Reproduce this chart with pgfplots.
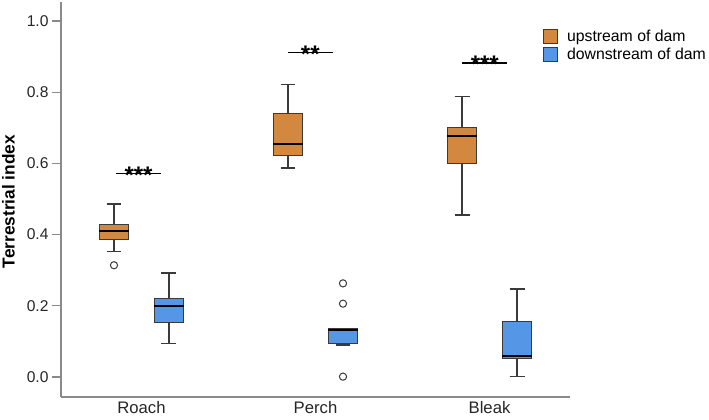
\documentclass[border=0pt]{standalone}
\usepackage{pgfplots}
\pgfplotsset{compat=1.18}
\usepgfplotslibrary{statistics}
\usepackage{fontspec}
\setmainfont{Liberation Sans}
\definecolor{upC}{HTML}{D2893F}
\definecolor{dnC}{HTML}{5596E6}
\definecolor{edge}{HTML}{3A3A3A}
\definecolor{axgray}{HTML}{8A8A8A}
\begin{document}
\begin{tikzpicture}
\useasboundingbox (-61pt,-23pt) rectangle (648pt,397pt);
\begin{axis}[
  scale only axis, width=509pt, height=395pt,
  xmin=0.5375, xmax=3.4625, ymin=-0.0562, ymax=1.0534,
  axis x line*=bottom, axis y line*=left,
  axis line style={axgray, line width=1.2pt, -},
  xtick={1,2,3}, xticklabels={Roach,Perch,Bleak},
  ytick={0,0.2,0.4,0.6,0.8,1.0},
  tick align=outside, major tick length=9pt,
  ytick style={axgray, line width=1.1pt},
  xtick style={draw=none},
  /pgf/number format/assume math mode=true,
  yticklabel style={/pgf/number format/fixed, /pgf/number format/fixed zerofill, /pgf/number format/precision=1, font=\fontsize{15.6}{18}\selectfont, text=black!85},
  xticklabel style={font=\fontsize{16.7}{19}\selectfont, text=black!85, yshift=8pt},
  ylabel={\bfseries Terrestrial index},
  ylabel style={at={(axis description cs:-0.1031,0.495)}, anchor=center, rotate=0, font=\fontsize{17.3}{20}\selectfont},
  clip=false,
  boxplot/draw direction=y,
  boxplot/every box/.style={draw=edge, line width=1.1pt},
  boxplot/every whisker/.style={draw=edge, line width=1.2pt},
  boxplot/every median/.style={draw=black, line width=2pt},
  boxplot/box extend=0.167,
  boxplot/whisker extend=0.086,
  legend style={draw=none, fill=none, at={(rel axis cs:0.947,0.9316)}, anchor=north west, inner sep=0pt, row sep=3.3pt, font=\fontsize{15.8}{18}\selectfont, nodes={inner xsep=5pt, inner ysep=0pt}},
  legend cell align=left,
  legend image code/.code={\draw[#1, draw=edge, line width=0.8pt] (0pt,-7pt) rectangle (14pt,7pt);},
]
\addlegendimage{fill=upC}
\addlegendentry{\hspace{4pt}upstream of dam}
\addlegendimage{fill=dnC}
\addlegendentry{\hspace{4pt}downstream of dam}

% Roach
\addplot[forget plot, fill=upC, mark=*, mark size=3.6pt, mark options={fill=white, draw=edge, line width=1pt},
  boxplot prepared={draw position=0.842, lower whisker=0.352, lower quartile=0.385, median=0.410, upper quartile=0.428, upper whisker=0.486}]
  table[row sep=\\, y index=0]{y\\0.314\\};
\addplot[forget plot, fill=dnC,
  boxplot prepared={draw position=1.158, lower whisker=0.095, lower quartile=0.152, median=0.199, upper quartile=0.220, upper whisker=0.292}]
  coordinates {};
% Perch
\addplot[forget plot, fill=upC,
  boxplot prepared={draw position=1.842, lower whisker=0.587, lower quartile=0.621, median=0.654, upper quartile=0.739, upper whisker=0.822}]
  coordinates {};
\addplot[forget plot, fill=dnC, mark=*, mark size=3.6pt, mark options={fill=white, draw=edge, line width=1pt},
  boxplot prepared={draw position=2.158, lower whisker=0.090, lower quartile=0.095, median=0.131, upper quartile=0.137, upper whisker=0.137}]
  table[row sep=\\, y index=0]{y\\0.263\\0.206\\0.001\\};
% Bleak
\addplot[forget plot, fill=upC,
  boxplot prepared={draw position=2.842, lower whisker=0.455, lower quartile=0.599, median=0.678, upper quartile=0.701, upper whisker=0.789}]
  coordinates {};
\addplot[forget plot, fill=dnC,
  boxplot prepared={draw position=3.158, lower whisker=0.001, lower quartile=0.051, median=0.059, upper quartile=0.157, upper whisker=0.247}]
  coordinates {};

% significance bars
\addplot[forget plot, black, line width=1.3pt] coordinates {(0.853,0.5716) (1.112,0.5716)};
\addplot[forget plot, black, line width=1.3pt] coordinates {(1.842,0.911) (2.101,0.911)};
\addplot[forget plot, black, line width=1.3pt] coordinates {(2.843,0.882) (3.103,0.882)};
\node[font=\bfseries\fontsize{24}{24}\selectfont, anchor=base, inner sep=0pt, yshift=-9.5pt] at (axis cs:0.983,0.5716) {***};
\node[font=\bfseries\fontsize{24}{24}\selectfont, anchor=base, inner sep=0pt, yshift=-9.5pt] at (axis cs:1.97,0.911) {**};
\node[font=\bfseries\fontsize{24}{24}\selectfont, anchor=base, inner sep=0pt, yshift=-9.5pt] at (axis cs:2.973,0.882) {***};
\end{axis}
\end{tikzpicture}
\end{document}
